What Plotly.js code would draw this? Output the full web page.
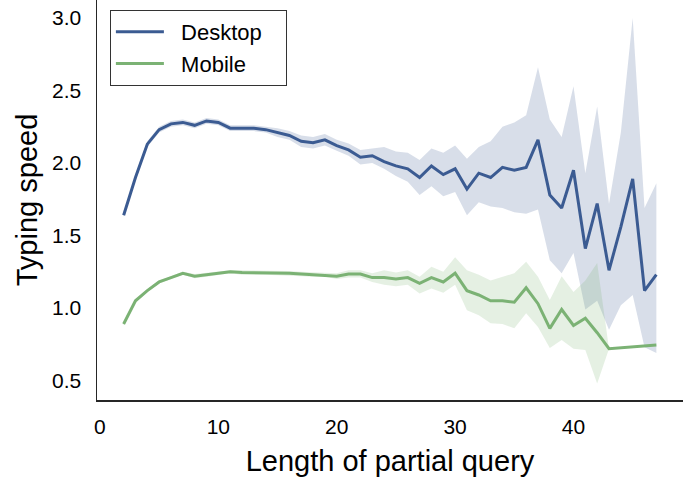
<!DOCTYPE html>
<html>
<head>
<meta charset="utf-8">
<script src="https://cdn.plot.ly/plotly-3.0.1.min.js"></script>
<style>
  html, body { margin: 0; padding: 0; background: #fff; }
  #graph { width: 685px; height: 481px; }
</style>
</head>
<body>
<div id="graph"></div>
<script>
// query length (x) and mean typing speed per device, with CI band edges
var queryLength = [2, 3, 4, 5, 6, 7, 8, 9, 10, 11, 12, 13, 14, 15, 16, 17, 18, 19, 20, 21, 22, 23, 24,
  25, 26, 27, 28, 29, 30, 31, 32, 33, 34, 35, 36, 37, 38, 39, 40, 41, 42, 43, 44, 45, 46, 47];

var desktop = [1.64, 1.90, 2.13, 2.23, 2.27, 2.28, 2.26, 2.29, 2.28, 2.24, 2.24, 2.24, 2.23, 2.21, 2.19,
  2.15, 2.14, 2.16, 2.12, 2.09, 2.04, 2.05, 2.01, 1.98, 1.96, 1.90, 1.98, 1.92, 1.96, 1.82, 1.93, 1.90,
  1.97, 1.95, 1.97, 2.16, 1.78, 1.69, 1.95, 1.41, 1.72, 1.26, 1.56, 1.89, 1.12, 1.23];
var desktopUpper = [1.65, 1.92, 2.15, 2.25, 2.29, 2.30, 2.28, 2.31, 2.30, 2.26, 2.26, 2.26, 2.25, 2.24, 2.22,
  2.19, 2.18, 2.20, 2.16, 2.135, 2.09, 2.10, 2.11, 2.08, 2.07, 2.02, 2.10, 2.07, 2.12, 2.03, 2.11, 2.15,
  2.25, 2.28, 2.33, 2.66, 2.30, 2.18, 2.53, 1.93, 2.39, 1.72, 2.21, 3.00, 1.69, 1.86];
var desktopLower = [1.63, 1.88, 2.11, 2.21, 2.25, 2.26, 2.24, 2.27, 2.26, 2.22, 2.22, 2.22, 2.21, 2.18, 2.16,
  2.11, 2.10, 2.12, 2.085, 2.05, 1.99, 2.00, 1.96, 1.91, 1.87, 1.78, 1.84, 1.77, 1.80, 1.64, 1.73, 1.70,
  1.69, 1.66, 1.65, 1.68, 1.33, 1.24, 1.38, 0.99, 1.05, 0.85, 1.02, 1.09, 0.73, 0.69];

var mobile = [0.89, 1.05, 1.12, 1.18, 1.21, 1.24, 1.22, 1.23, 1.24, 1.25, 1.245, 1.245, 1.245, 1.24, 1.24,
  1.235, 1.23, 1.23, 1.22, 1.235, 1.235, 1.21, 1.21, 1.20, 1.21, 1.17, 1.21, 1.18, 1.24, 1.12, 1.09, 1.05,
  1.05, 1.04, 1.14, 1.03, 0.86, 0.99, 0.88, 0.93, 0.83, 0.72, 0.725, 0.73, 0.735, 0.745];
var mobileUpper = [0.90, 1.06, 1.13, 1.19, 1.22, 1.25, 1.235, 1.245, 1.255, 1.26, 1.26, 1.26, 1.26, 1.255, 1.255,
  1.25, 1.245, 1.245, 1.24, 1.26, 1.26, 1.24, 1.26, 1.245, 1.26, 1.215, 1.285, 1.25, 1.35, 1.26, 1.23, 1.19,
  1.215, 1.24, 1.32, 1.215, 1.055, 1.22, 1.11, 1.19, 1.31, 0.72, 0.725, 0.73, 0.735, 0.745];
var mobileLower = [0.88, 1.04, 1.11, 1.17, 1.20, 1.23, 1.205, 1.215, 1.225, 1.24, 1.23, 1.23, 1.23, 1.225, 1.225,
  1.22, 1.215, 1.215, 1.20, 1.21, 1.21, 1.18, 1.16, 1.15, 1.16, 1.10, 1.135, 1.105, 1.16, 0.985, 0.95, 0.895,
  0.89, 0.86, 0.965, 0.87, 0.725, 0.78, 0.72, 0.71, 0.48, 0.72, 0.725, 0.73, 0.735, 0.745];

var seriesNames = ['Desktop', 'Mobile'];

var blue = '#3b5b92';
var green = '#7bb274';

// polygon: upper edge left->right, lower edge right->left
function band(upper, lower, color, group) {
  return {
    x: queryLength.concat(queryLength.slice().reverse()),
    y: upper.concat(lower.slice().reverse()),
    type: 'scatter',
    mode: 'lines',
    fill: 'toself',
    fillcolor: color,
    line: { width: 0 },
    opacity: 0.2,
    hoverinfo: 'skip',
    showlegend: false,
    legendgroup: group
  };
}

function line(values, color, name) {
  return {
    x: queryLength,
    y: values,
    type: 'scatter',
    mode: 'lines',
    // nbsp padding: wider gap after the swatch, and some room at the right of the box
    name: '\u00a0\u00a0' + name + '\u00a0\u00a0\u00a0',
    legendgroup: name,
    line: { color: color, width: 3 }
  };
}

var data = [
  band(desktopUpper, desktopLower, blue, seriesNames[0]),
  line(desktop, blue, seriesNames[0]),
  band(mobileUpper, mobileLower, green, seriesNames[1]),
  line(mobile, green, seriesNames[1])
];

var font = 'Liberation Sans, Arial, sans-serif';

var layout = {
  width: 685,
  height: 481,
  margin: { l: 97, r: 2, t: 0, b: 81 },
  paper_bgcolor: '#fff',
  plot_bgcolor: '#fff',
  font: { family: font, color: '#000' },
  xaxis: {
    range: [-0.25, 49.25],
    tickvals: [0, 10, 20, 30, 40],
    showgrid: false,
    zeroline: false,
    showline: true,
    linecolor: '#262626',
    linewidth: 1.5,
    ticks: '',
    ticklabelstandoff: 7,
    tickfont: { size: 21, family: font },
    title: { text: 'Length of partial query', font: { size: 29, family: font }, standoff: 14 }
  },
  yaxis: {
    range: [0.366, 3.124],
    tickvals: [0.5, 1.0, 1.5, 2.0, 2.5, 3.0],
    ticktext: ['0.5', '1.0', '1.5', '2.0', '2.5', '3.0'],
    showgrid: false,
    zeroline: false,
    showline: true,
    linecolor: '#262626',
    linewidth: 1.5,
    ticks: '',
    ticklabelstandoff: 10,
    tickfont: { size: 21, family: font },
    title: { text: 'Typing speed', font: { size: 29, family: font }, standoff: 6 }
  },
  legend: {
    x: 0.022,
    y: 0.975,
    xanchor: 'left',
    yanchor: 'top',
    bgcolor: '#fff',
    bordercolor: '#333',
    borderwidth: 1,
    font: { size: 22, family: font },
    itemwidth: 48,
    traceorder: 'grouped',
    tracegroupgap: 0
  },
  showlegend: true
};

Plotly.newPlot('graph', data, layout, { displayModeBar: false, staticPlot: true });
</script>
</body>
</html>
